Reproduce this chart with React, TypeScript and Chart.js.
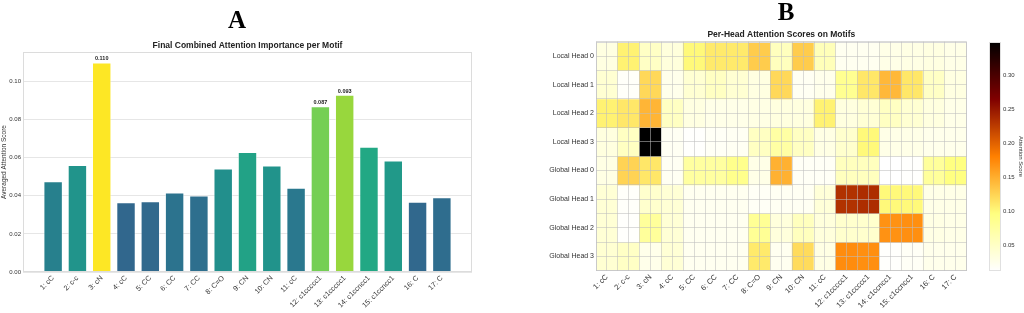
import React, { useEffect, useRef } from "react";
import { Chart, registerables } from "chart.js";
Chart.register(...registerables);

Chart.defaults.font.family = '"Liberation Sans", Arial, sans-serif';
Chart.defaults.color = "#333";

// ---------- DATA ----------
const motifLabels = [
  "1: cC", "2: c-c", "3: cN", "4: cC", "5: CC", "6: CC", "7: CC", "8: C=O", "9: CN",
  "10: CN", "11: cC", "12: c1ccccc1", "13: c1ccccc1", "14: c1ccncc1", "15: c1ccncc1", "16: C", "17: C",
];
const combinedScores = [
  0.0477, 0.0562, 0.110, 0.0366, 0.0372, 0.0418, 0.0402, 0.0543, 0.0630,
  0.0559, 0.0442, 0.087, 0.093, 0.0658, 0.0586, 0.0369, 0.0392,
];
const barYTicks = [0, 0.02, 0.04, 0.06, 0.08, 0.1];

const headLabels = [
  "Local Head 0", "Local Head 1", "Local Head 2", "Local Head 3",
  "Global Head 0", "Global Head 1", "Global Head 2", "Global Head 3",
];
const localHead0 = [0.032, 0.105, 0.050, 0.035, 0.100, 0.110, 0.110, 0.130, 0.055, 0.130, 0.058, 0.022, 0.022, 0.028, 0.030, 0.032, 0.028];
const localHead1 = [0.042, 0.016, 0.122, 0.025, 0.042, 0.052, 0.042, 0.032, 0.122, 0.020, 0.025, 0.085, 0.112, 0.143, 0.112, 0.050, 0.032];
const localHead2 = [0.105, 0.112, 0.145, 0.052, 0.032, 0.027, 0.027, 0.030, 0.033, 0.033, 0.105, 0.033, 0.040, 0.052, 0.042, 0.033, 0.027];
const localHead3 = [0.033, 0.052, 0.349, 0.020, 0.013, 0.018, 0.020, 0.052, 0.072, 0.052, 0.030, 0.045, 0.100, 0.028, 0.028, 0.025, 0.025];
const globalHead0 = [0.030, 0.125, 0.112, 0.020, 0.075, 0.075, 0.088, 0.028, 0.148, 0.018, 0.018, 0.055, 0.055, 0.012, 0.013, 0.078, 0.095];
const globalHead1 = [0.040, 0.015, 0.045, 0.040, 0.022, 0.022, 0.022, 0.018, 0.020, 0.020, 0.038, 0.232, 0.235, 0.100, 0.100, 0.028, 0.028];
const globalHead2 = [0.040, 0.014, 0.078, 0.040, 0.022, 0.022, 0.022, 0.082, 0.035, 0.055, 0.035, 0.045, 0.045, 0.168, 0.170, 0.030, 0.028];
const globalHead3 = [0.042, 0.050, 0.026, 0.040, 0.022, 0.022, 0.022, 0.110, 0.022, 0.120, 0.030, 0.172, 0.170, 0.014, 0.018, 0.025, 0.025];
const headRows = [localHead0, localHead1, localHead2, localHead3, globalHead0, globalHead1, globalHead2, globalHead3];
const colorbarTicks = [0.05, 0.1, 0.15, 0.2, 0.25, 0.3];

// ---------- COLOUR MAPS ----------
const VIRIDIS = ["#440154", "#482475", "#414487", "#355f8d", "#2a788e", "#21918c", "#22a884", "#44bf70", "#7ad151", "#bddf26", "#fde725"];
function hexToRgb(h: string) {
  return [parseInt(h.slice(1, 3), 16), parseInt(h.slice(3, 5), 16), parseInt(h.slice(5, 7), 16)];
}
function viridis(t: number) {
  const c = Math.max(0, Math.min(1, t)) * (VIRIDIS.length - 1);
  const i = Math.min(VIRIDIS.length - 2, Math.floor(c));
  const f = c - i;
  const a = hexToRgb(VIRIDIS[i]);
  const b = hexToRgb(VIRIDIS[i + 1]);
  const m = a.map((v, k) => Math.round(v + (b[k] - v) * f));
  return `rgb(${m[0]},${m[1]},${m[2]})`;
}
function afmhotR(t: number) {
  const x = 1 - Math.max(0, Math.min(1, t));
  const cl = (v: number) => Math.round(Math.max(0, Math.min(1, v)) * 255);
  return `rgb(${cl(2 * x)},${cl(2 * x - 0.5)},${cl(2 * x - 1)})`;
}

const framePlugin = (color: string) => ({
  id: "frame",
  afterDatasetsDraw(chart: any) {
    const { ctx, chartArea: a } = chart;
    ctx.save();
    ctx.strokeStyle = color;
    ctx.lineWidth = 1;
    ctx.strokeRect(Math.round(a.left) + 0.5, Math.round(a.top) + 0.5, Math.round(a.right - a.left) - 1, Math.round(a.bottom - a.top) - 1);
    ctx.restore();
  },
});

// ---------- PANEL A ----------
function BarPanel() {
  const ref = useRef<HTMLCanvasElement>(null);
  useEffect(() => {
    const maxV = Math.max(...combinedScores);
    const n = motifLabels.length;
    const margin = ((n - 1) + 0.8) * 0.05;
    const top3 = [...combinedScores].sort((a, b) => b - a).slice(0, 3);
    const labelPlugin = {
      id: "vlabels",
      afterDatasetsDraw(chart: any) {
        const { ctx } = chart;
        const meta = chart.getDatasetMeta(0);
        ctx.save();
        ctx.font = 'bold 5.5px "Liberation Sans", Arial, sans-serif';
        ctx.fillStyle = "#222";
        ctx.textAlign = "center";
        ctx.textBaseline = "bottom";
        meta.data.forEach((el: any, i: number) => {
          const v = combinedScores[i];
          if (top3.includes(v)) ctx.fillText(v.toFixed(3), el.x, el.y - 1);
        });
        ctx.restore();
      },
    };
    const chart = new Chart(ref.current!, {
      type: "bar",
      data: {
        datasets: [
          {
            data: combinedScores.map((v, i) => ({ x: i, y: v })),
            backgroundColor: combinedScores.map((v) => viridis(v / maxV)),
            borderColor: "rgba(255,255,255,0.5)",
            borderWidth: 1,
            barPercentage: 0.8,
            categoryPercentage: 1,
          } as any,
        ],
      },
      options: {
        animation: false,
        responsive: false,
        layout: { padding: { top: 40.6, right: 40, left: 0, bottom: 0 } },
        plugins: {
          legend: { display: false },
          tooltip: { enabled: false },
          title: {
            display: true,
            text: "Final Combined Attention Importance per Motif",
            fullSize: false,
            color: "#222",
            font: { size: 8.5, weight: "bold" },
            padding: { top: 0, bottom: 1.2 },
          },
        },
        scales: {
          x: {
            type: "linear",
            min: -0.4 - margin,
            max: n - 1 + 0.4 + margin,
            offset: false,
            grid: { display: false, offset: false, drawTicks: false },
            border: { display: false },
            afterBuildTicks: (s: any) => {
              s.ticks = motifLabels.map((_, i) => ({ value: i }));
            },
            ticks: {
              autoSkip: false,
              minRotation: 45,
              maxRotation: 45,
              padding: 2,
              font: { size: 7.2 },
              callback: (v: any) => motifLabels[Math.round(v)],
            },
            afterFit: (s: any) => {
              s.height = 41;
            },
          } as any,
          y: {
            min: 0,
            max: maxV * 1.05,
            afterBuildTicks: (s: any) => {
              s.ticks = barYTicks.map((v) => ({ value: v }));
            },
            ticks: { padding: 2, font: { size: 6 }, callback: (v: any) => Number(v).toFixed(2) },
            grid: { color: "#e6e6e6", drawTicks: false },
            border: { display: false },
            title: {
              display: true,
              text: "Averaged Attention Score",
              font: { size: 6.5 },
              padding: { top: 0.5, bottom: 0 },
            },
            afterFit: (s: any) => {
              s.width = 23;
            },
          } as any,
        },
      },
      plugins: [framePlugin("#dcdcdc"), labelPlugin],
    });
    return () => chart.destroy();
  }, []);
  return <canvas ref={ref} width={512} height={313} style={{ position: "absolute", left: 0, top: 0 }} />;
}

// ---------- PANEL B ----------
function HeatPanel() {
  const ref = useRef<HTMLCanvasElement>(null);
  useEffect(() => {
    const all = headRows.flat();
    const vmin = Math.min(...all);
    const vmax = Math.max(...all);
    const nC = motifLabels.length;
    const nR = headLabels.length;
    const isInt = (v: number) => Math.abs(v - Math.round(v)) < 1e-6;
    const gridColor = "rgba(190,190,190,0.55)";
    const chart = new Chart(ref.current!, {
      type: "bar",
      data: {
        datasets: headRows.map((row, r) => ({
          data: row.map((_, c) => ({ x: c, y: [r - 0.5, r + 0.5] })),
          backgroundColor: row.map((v) => afmhotR((v - vmin) / (vmax - vmin))),
          borderWidth: 0,
          barPercentage: 1,
          categoryPercentage: 1,
          grouped: false,
        })) as any,
      },
      options: {
        animation: false,
        responsive: false,
        layout: { padding: { top: 29.6, right: 8.4, left: 0, bottom: 0 } },
        plugins: {
          legend: { display: false },
          tooltip: { enabled: false },
          title: {
            display: true,
            text: "Per-Head Attention Scores on Motifs",
            fullSize: false,
            color: "#222",
            font: { size: 8.5, weight: "bold" },
            padding: { top: 0, bottom: 1.9 },
          },
        },
        scales: {
          x: {
            type: "linear",
            min: -0.5,
            max: nC - 0.5,
            offset: false,
            grid: { color: gridColor, z: 1, offset: false, drawTicks: false },
            border: { display: false },
            afterBuildTicks: (s: any) => {
              s.ticks = motifLabels.map((_, i) => ({ value: i }));
            },
            ticks: {
              autoSkip: false,
              minRotation: 45,
              maxRotation: 45,
              padding: 2,
              font: { size: 7.5 },
              callback: (v: any) => motifLabels[Math.round(v)],
            },
            afterFit: (s: any) => {
              s.height = 42.3;
            },
          } as any,
          xb: {
            type: "linear",
            position: "bottom",
            min: -0.5,
            max: nC - 0.5,
            offset: false,
            grid: { color: gridColor, z: 1, offset: false, drawTicks: false },
            border: { display: false },
            afterBuildTicks: (s: any) => {
              s.ticks = Array.from({ length: nC + 1 }, (_, i) => ({ value: i - 0.5 }));
            },
            ticks: { display: false },
            afterFit: (s: any) => {
              s.height = 0;
            },
          } as any,
          y: {
            type: "linear",
            reverse: true,
            min: -0.5,
            max: nR - 0.5,
            grid: { color: gridColor, z: 1, drawTicks: false },
            border: { display: false },
            afterBuildTicks: (s: any) => {
              s.ticks = Array.from({ length: 2 * nR + 1 }, (_, i) => ({ value: -0.5 + i * 0.5 }));
            },
            ticks: {
              autoSkip: false,
              padding: 2,
              font: { size: 7 },
              callback: (v: any) => (isInt(v) ? headLabels[Math.round(v)] : ""),
            },
            afterFit: (s: any) => {
              s.width = 84;
            },
          } as any,
        },
      },
      plugins: [framePlugin("#d8d8d8")],
    });
    return () => chart.destroy();
  }, []);
  return <canvas ref={ref} width={463} height={313} style={{ position: "absolute", left: 512, top: 0 }} />;
}

function ColorBar() {
  const ref = useRef<HTMLCanvasElement>(null);
  useEffect(() => {
    const all = headRows.flat();
    const vmin = Math.min(...all);
    const vmax = Math.max(...all);
    const gradPlugin = {
      id: "grad",
      beforeDatasetsDraw(chart: any) {
        const { ctx, chartArea: a } = chart;
        const y = chart.scales.y;
        const g = ctx.createLinearGradient(0, y.getPixelForValue(vmin), 0, y.getPixelForValue(vmax));
        for (let i = 0; i <= 40; i++) g.addColorStop(i / 40, afmhotR(i / 40));
        ctx.save();
        ctx.fillStyle = g;
        ctx.fillRect(a.left, a.top, a.right - a.left, a.bottom - a.top);
        ctx.strokeStyle = "#e0e0e0";
        ctx.lineWidth = 1;
        ctx.strokeRect(Math.round(a.left) + 0.5, Math.round(a.top) + 0.5, Math.round(a.right - a.left) - 1, Math.round(a.bottom - a.top) - 1);
        ctx.restore();
      },
    };
    const chart = new Chart(ref.current!, {
      type: "bar",
      data: { labels: [], datasets: [] },
      options: {
        animation: false,
        responsive: false,
        layout: { padding: { top: 42, bottom: 42, left: 14, right: 0 } },
        plugins: { legend: { display: false }, tooltip: { enabled: false } },
        scales: {
          x: { display: false },
          y: {
            type: "linear",
            position: "right",
            min: vmin,
            max: vmax,
            afterBuildTicks: (s: any) => {
              s.ticks = colorbarTicks.map((v) => ({ value: v }));
            },
            grid: { display: false, drawTicks: false },
            border: { display: false },
            ticks: { padding: 2, font: { size: 6 }, callback: (v: any) => Number(v).toFixed(2) },
            title: { display: true, text: "Attention Score", font: { size: 6 }, padding: { top: 0, bottom: 0.4 } },
            afterFit: (s: any) => {
              s.width = 23;
            },
          } as any,
        },
      },
      plugins: [gradPlugin],
    });
    return () => chart.destroy();
  }, []);
  return <canvas ref={ref} width={49} height={313} style={{ position: "absolute", left: 975, top: 0 }} />;
}

const letterStyle: React.CSSProperties = {
  position: "absolute",
  width: 60,
  textAlign: "center",
  fontFamily: '"Liberation Serif", "Times New Roman", serif',
  fontWeight: "bold",
  fontSize: 25,
  lineHeight: "25px",
  color: "#000",
};

export default function App() {
  return (
    <div style={{ position: "fixed", left: 0, top: 0, width: 1024, height: 313, background: "#fff", overflow: "hidden" }}>
      <BarPanel />
      <HeatPanel />
      <ColorBar />
      <div style={{ ...letterStyle, left: 207, top: 7 }}>A</div>
      <div style={{ ...letterStyle, left: 756, top: -1 }}>B</div>
    </div>
  );
}
